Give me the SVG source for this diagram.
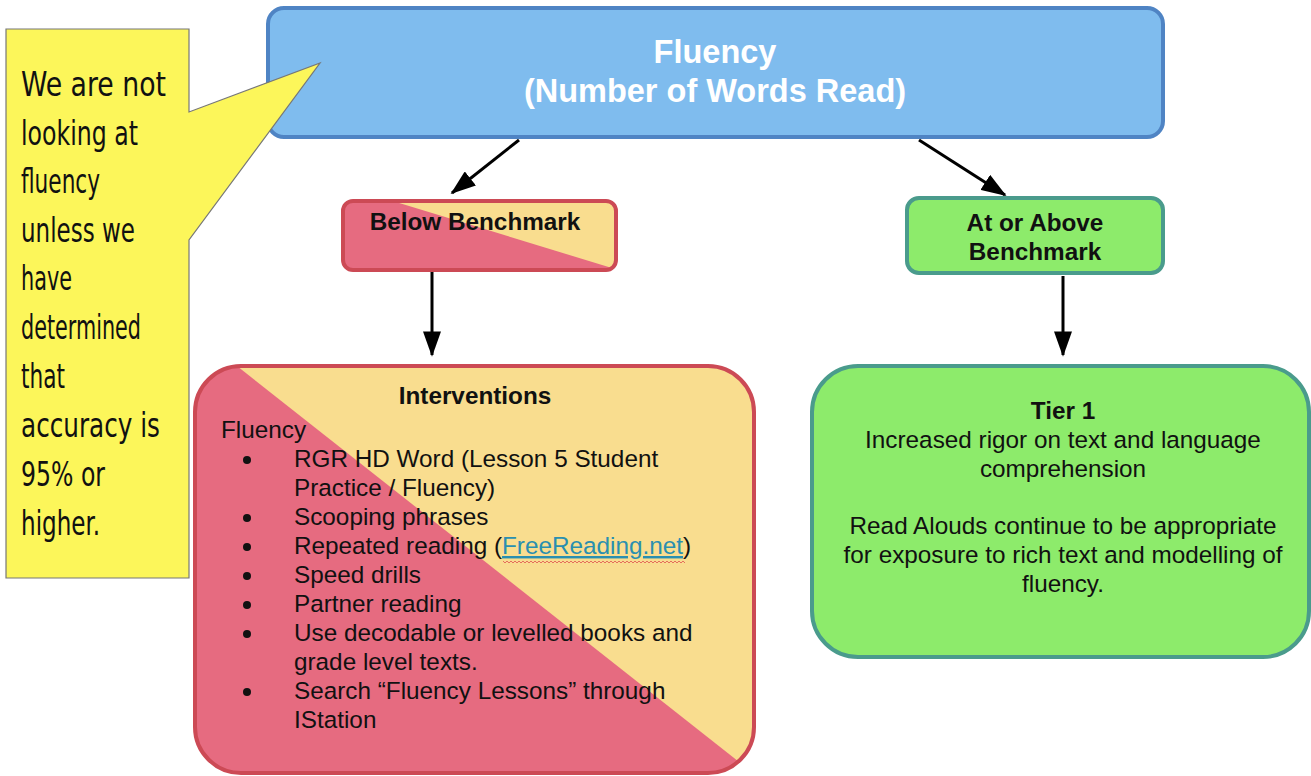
<svg xmlns="http://www.w3.org/2000/svg" width="1311" height="776" viewBox="0 0 1311 776">
  <style>
    .sans { font-family: "Liberation Sans", Arial, sans-serif; }
    .bold { font-weight: bold; }
    .hand { font-family: "DejaVu Sans Condensed", "DejaVu Sans", sans-serif; font-size: 34px; font-weight: 300; fill: #111; }
    .body { font-size: 24.3px; fill: #111; }
    .title { font-size: 24.3px; font-weight: bold; fill: #111; }
    .link { fill: #2a8fb0; text-decoration: underline; }
    .edge { stroke: #000; stroke-width: 3; fill: none; marker-end: url(#arrow); }
    .red-frame { fill: none; stroke: #cc4a55; stroke-width: 4; }
    .green-box { fill: #8deb6b; stroke: #4a9b8c; stroke-width: 4; }
  </style>
  <defs>
    <marker id="arrow" viewBox="0 0 14 10" refX="13" refY="5" markerWidth="8.5" markerHeight="6" markerUnits="strokeWidth" orient="auto">
      <path d="M0,0 L14,5 L0,10 Z" fill="#000"/>
    </marker>
    <clipPath id="clip-below">
      <rect x="343" y="201" width="273" height="69" rx="10"/>
    </clipPath>
    <clipPath id="clip-interv">
      <rect x="195" y="366" width="559" height="407" rx="46"/>
    </clipPath>
  </defs>

  <rect width="1311" height="776" fill="#fff"/>

  <!-- connectors -->
  <g id="connectors">
    <line class="edge" x1="519" y1="140" x2="452" y2="193"/>
    <line class="edge" x1="919" y1="140" x2="1005" y2="195"/>
    <line class="edge" x1="432" y1="272" x2="432" y2="355"/>
    <line class="edge" x1="1063" y1="276" x2="1063" y2="355"/>
  </g>

  <!-- top node -->
  <g id="fluency">
    <rect x="268" y="8" width="895" height="129" rx="16" fill="#7fbcee" stroke="#4f84c4" stroke-width="4"/>
    <text class="sans bold" x="715" y="63" font-size="32.5" fill="#fff" text-anchor="middle">Fluency</text>
    <text class="sans bold" x="715" y="102" font-size="32.5" fill="#fff" text-anchor="middle">(Number of Words Read)</text>
  </g>

  <!-- callout note -->
  <g id="note">
    <path d="M6,29 H189 V112 L320,63 L189,240 V578 H6 Z" fill="#fcf65a" stroke="#777" stroke-width="1.2"/>
    <text class="hand">
      <tspan x="21" y="96" textLength="145" lengthAdjust="spacingAndGlyphs">We are not</tspan>
      <tspan x="21" y="145" textLength="117" lengthAdjust="spacingAndGlyphs">looking at</tspan>
      <tspan x="21" y="193" textLength="79" lengthAdjust="spacingAndGlyphs">fluency</tspan>
      <tspan x="21" y="242" textLength="114" lengthAdjust="spacingAndGlyphs">unless we</tspan>
      <tspan x="21" y="290" textLength="51" lengthAdjust="spacingAndGlyphs">have</tspan>
      <tspan x="21" y="339" textLength="120" lengthAdjust="spacingAndGlyphs">determined</tspan>
      <tspan x="21" y="388" textLength="44" lengthAdjust="spacingAndGlyphs">that</tspan>
      <tspan x="21" y="437" textLength="139" lengthAdjust="spacingAndGlyphs">accuracy is</tspan>
      <tspan x="21" y="486" textLength="84" lengthAdjust="spacingAndGlyphs">95% or</tspan>
      <tspan x="21" y="535" textLength="79" lengthAdjust="spacingAndGlyphs">higher.</tspan>
    </text>
  </g>

  <!-- below benchmark -->
  <g id="below-benchmark">
    <g clip-path="url(#clip-below)">
      <rect x="343" y="201" width="273" height="69" fill="#e66b80"/>
      <polygon points="373,195 625,195 625,272" fill="#f9dd8f"/>
    </g>
    <rect class="red-frame" x="343" y="201" width="273" height="69" rx="10"/>
    <text class="sans title" x="475" y="230" text-anchor="middle">Below Benchmark</text>
  </g>

  <!-- interventions -->
  <g id="interventions">
    <g clip-path="url(#clip-interv)">
      <rect x="195" y="366" width="559" height="407" fill="#e66b80"/>
      <polygon points="237,366 800,366 800,810" fill="#f9dd8f"/>
    </g>
    <rect class="red-frame" x="195" y="366" width="559" height="407" rx="46"/>
    <text class="sans title" x="475" y="404" text-anchor="middle">Interventions</text>
    <g class="sans body">
      <text x="221" y="438">Fluency</text>
      <g fill="#111">
        <circle cx="247" cy="460" r="4"/>
        <circle cx="247" cy="518" r="4"/>
        <circle cx="247" cy="547" r="4"/>
        <circle cx="247" cy="576" r="4"/>
        <circle cx="247" cy="605" r="4"/>
        <circle cx="247" cy="634" r="4"/>
        <circle cx="247" cy="692" r="4"/>
      </g>
      <text x="294" y="467">RGR HD Word (Lesson 5 Student</text>
      <text x="294" y="496">Practice / Fluency)</text>
      <text x="294" y="525">Scooping phrases</text>
      <text x="294" y="554">Repeated reading (<tspan class="link">FreeReading.net</tspan>)</text>
      <text x="294" y="583">Speed drills</text>
      <text x="294" y="612">Partner reading</text>
      <text x="294" y="641">Use decodable or levelled books and</text>
      <text x="294" y="670">grade level texts.</text>
      <text x="294" y="699">Search “Fluency Lessons” through</text>
      <text x="294" y="728">IStation</text>
    </g>
    <!-- spell-check squiggle under the link -->
    <path d="M503,561 l2,2 l2,-2 l2,2 l2,-2 l2,2 l2,-2 l2,2 l2,-2 l2,2 l2,-2 l2,2 l2,-2 l2,2 l2,-2 l2,2 l2,-2 l2,2 l2,-2 l2,2 l2,-2 l2,2 l2,-2 l2,2 l2,-2 l2,2 l2,-2 l2,2 l2,-2 l2,2 l2,-2 l2,2 l2,-2 l2,2 l2,-2 l2,2 l2,-2 l2,2 l2,-2 l2,2 l2,-2 l2,2 l2,-2 l2,2 l2,-2 l2,2 l2,-2 l2,2 l2,-2 l2,2 l2,-2 l2,2 l2,-2 l2,2 l2,-2 l2,2 l2,-2 l2,2 l2,-2 l2,2 l2,-2 l2,2 l2,-2 l2,2 l2,-2 l2,2 l2,-2 l2,2 l2,-2 l2,2 l2,-2 l2,2 l2,-2 l2,2 l2,-2 l2,2 l2,-2 l2,2 l2,-2 l2,2 l2,-2 l2,2 l2,-2 l2,2 l2,-2 l2,2 l2,-2 l2,2 l2,-2 l2,2 l2,-2 l2,2" fill="none" stroke="#e05050" stroke-width="0.8"/>
  </g>

  <!-- at or above benchmark -->
  <g id="at-or-above">
    <rect class="green-box" x="907" y="198" width="256" height="75" rx="12"/>
    <text class="sans title" x="1035" y="231" text-anchor="middle">At or Above</text>
    <text class="sans title" x="1035" y="260" text-anchor="middle">Benchmark</text>
  </g>

  <!-- tier 1 -->
  <g id="tier-1">
    <rect class="green-box" x="812" y="366" width="497" height="291" rx="46"/>
    <g class="sans" text-anchor="middle">
      <text class="title" x="1063" y="419">Tier 1</text>
      <text class="body" x="1063" y="448">Increased rigor on text and language</text>
      <text class="body" x="1063" y="477">comprehension</text>
      <text class="body" x="1063" y="534">Read Alouds continue to be appropriate</text>
      <text class="body" x="1063" y="563">for exposure to rich text and modelling of</text>
      <text class="body" x="1063" y="592">fluency.</text>
    </g>
  </g>
</svg>
